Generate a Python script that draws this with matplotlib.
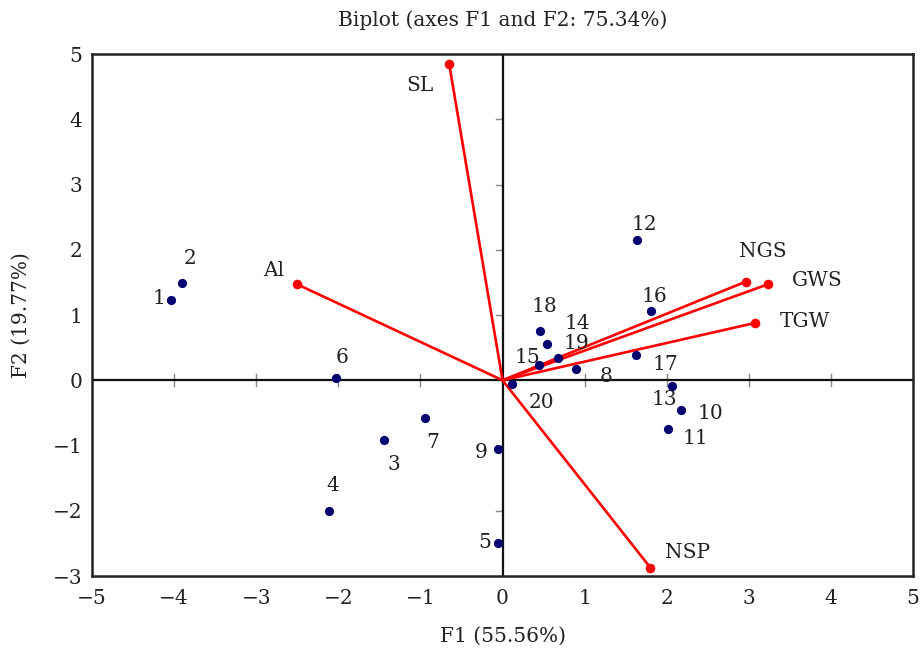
import matplotlib
matplotlib.use("Agg")
import matplotlib.pyplot as plt
import numpy as np

plt.rcParams['font.family'] = ['DejaVu Serif']

# Observations
obs_labels = [str(i) for i in range(1, 21)]
obs_x = [-4.04, -3.90, -1.44, -2.11, -0.05, -2.03, -0.94, 0.89, -0.06, 2.17,
         2.02, 1.64, 2.07, 0.54, 0.45, 1.81, 1.63, 0.46, 0.67, 0.12]
obs_y = [1.23, 1.49, -0.92, -2.01, -2.49, 0.03, -0.58, 0.18, -1.06, -0.45,
         -0.75, 2.15, -0.09, 0.55, 0.23, 1.06, 0.38, 0.75, 0.34, -0.06]
# label offsets in pixels
obs_off = [(-12, 2), (8, 25), (10, -24), (3, 26), (-14, 0), (6, 21), (7, -24),
           (30, -8), (-16, -3), (30, -4), (27, -9), (7, 15), (-8, -13), (30, 21),
           (-12, 8), (3, 15), (29, -9), (4, 25), (19, 15), (29, -18)]

# Variables
var_labels = ['SL', 'Al', 'NGS', 'GWS', 'TGW', 'NSP']
var_x = [-0.65, -2.50, 2.96, 3.23, 3.08, 1.80]
var_y = [4.85, 1.47, 1.51, 1.47, 0.88, -2.87]
var_off = [(-29, -22), (-24, 14), (17, 30), (50, 4), (50, 1), (37, 15)]

xticks = [-5, -4, -3, -2, -1, 0, 1, 2, 3, 4, 5]
yticks = [-3, -2, -1, 0, 1, 2, 3, 4, 5]

FS = 14.5

fig = plt.figure(figsize=(9.23, 6.5), dpi=100)
ax = fig.add_axes([0.0997, 0.1138, 0.8895, 0.8031])
ax.set_xlim(-5, 5)
ax.set_ylim(-3, 5)

ax.axhline(0, color='#111111', lw=1.6, zorder=2)
ax.axvline(0, color='#111111', lw=1.6, zorder=2)
# small ticks on zero lines
for t in xticks[1:-1]:
    if t != 0:
        ax.plot([t, t], [-0.09, 0.09], color='#888888', lw=1.0, zorder=1)
for t in yticks[1:-1]:
    if t != 0:
        ax.plot([-0.085, 0], [t, t], color='#888888', lw=1.0, zorder=1)

for vx, vy in zip(var_x, var_y):
    ax.plot([0, vx], [0, vy], color='#ff0000', lw=1.9, zorder=3)
ax.scatter(var_x, var_y, s=48, color='#ff0000', zorder=4, linewidths=0)
ax.scatter(obs_x, obs_y, s=44, color='#000070', zorder=5, linewidths=0)

for lab, x, y, off in zip(obs_labels, obs_x, obs_y, obs_off):
    ax.annotate(lab, (x, y), xytext=off, textcoords='offset pixels',
                ha='center', va='center', fontsize=FS, color='#222222')
for lab, x, y, off in zip(var_labels, var_x, var_y, var_off):
    ax.annotate(lab, (x, y), xytext=off, textcoords='offset pixels',
                ha='center', va='center', fontsize=FS, color='#222222')

ax.set_xticks(xticks)
ax.set_yticks(yticks)
ax.set_xticklabels(['\u22125', '\u22124', '\u22123', '\u22122', '\u22121', '0', '1', '2', '3', '4', '5'])
ax.set_yticklabels(['\u22123', '\u22122', '\u22121', '0', '1', '2', '3', '4', '5'])
ax.tick_params(axis='x', length=0, labelsize=FS, colors='#222222', pad=9)
ax.tick_params(axis='y', length=0, labelsize=FS, colors='#222222', pad=7)
for s in ax.spines.values():
    s.set_linewidth(1.8)
    s.set_color('#222222')

ax.set_title('Biplot (axes F1 and F2: 75.34%)', fontsize=FS, color='#222222', pad=20)
ax.set_xlabel('F1 (55.56%)', fontsize=FS, color='#222222', labelpad=14)
ax.set_ylabel('F2 (19.77%)', fontsize=FS, color='#222222', labelpad=16)

fig.savefig('out.png', dpi=100)
